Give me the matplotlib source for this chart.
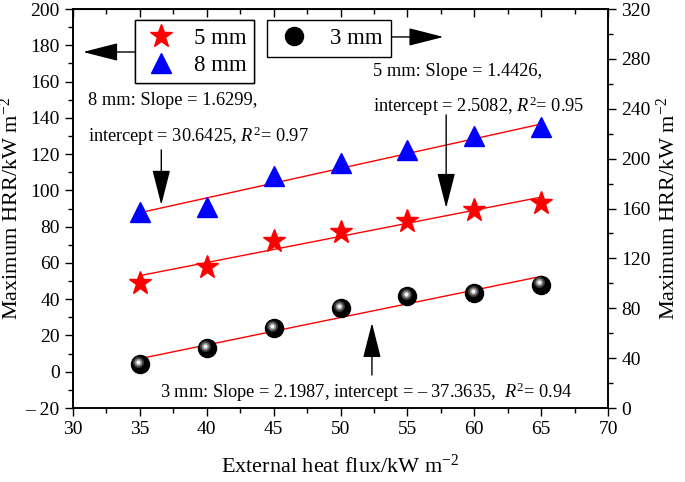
import matplotlib
import matplotlib.pyplot as plt
from matplotlib.lines import Line2D
from matplotlib.ticker import MultipleLocator, FuncFormatter
from matplotlib.transforms import offset_copy

matplotlib.use("Agg")

plt.rcParams["font.family"] = ["Liberation Serif", "DejaVu Serif"]
plt.rcParams["mathtext.fontset"] = "custom"
plt.rcParams["mathtext.rm"] = "Liberation Serif"
plt.rcParams["mathtext.it"] = "Liberation Serif:italic"

# external heat flux (kW m^-2)
heat_flux = [35, 40, 45, 50, 55, 60, 65]
# max HRR, left axis
hrr_5mm = [49, 58, 72, 77, 83, 89, 93]
hrr_8mm = [88, 91, 108, 115, 122, 130, 135]
# max HRR, right axis
hrr_3mm = [35, 48, 64, 80, 90, 92, 99]

# linear fits reported on the chart
fit_5mm = (1.4426, 2.5082)
fit_8mm = (1.6299, 30.6425)
fit_3mm = (2.1987, -37.3635)
fit_x = [35, 65]


def minus_fmt(v, pos):
    if v < 0:
        return "\u2013 %d" % abs(v)
    return "%d" % v


fig = plt.figure(figsize=(6.85, 4.82), dpi=100)
ax = fig.add_axes([0.1066, 0.1535, 0.7810, 0.8278])
ax2 = ax.twinx()

# fit lines
for slope, icpt in (fit_5mm, fit_8mm):
    ax.plot(fit_x, [slope * x + icpt for x in fit_x], color="red", lw=1, zorder=2)
ax2.plot(fit_x, [fit_3mm[0] * x + fit_3mm[1] for x in fit_x], color="red", lw=1, zorder=2)

ax.plot(heat_flux, hrr_5mm, ls="none", marker="*", ms=17, color="red", mec="red", zorder=3)
ax.plot(heat_flux, hrr_8mm, ls="none", marker="^", ms=15, color="blue", mec="blue", zorder=3)

# shaded spheres for 3 mm
ax2.plot(heat_flux, hrr_3mm, ls="none", marker="o", ms=13, color="black", zorder=3)
hl = offset_copy(ax2.transData, fig=fig, x=-1.2, y=1.5, units="points")
ax2.plot(heat_flux, hrr_3mm, ls="none", marker="o", ms=8, color="#3a3a3a", mew=0,
         transform=hl, zorder=4)
ax2.plot(heat_flux, hrr_3mm, ls="none", marker="o", ms=5.5, color="#8a8a8a", mew=0,
         transform=hl, zorder=4)
ax2.plot(heat_flux, hrr_3mm, ls="none", marker="o", ms=3, color="#f2f2f2", mew=0,
         transform=hl, zorder=5)

ax.set_xlim(30, 70)
ax.set_ylim(-20, 200)
ax2.set_ylim(0, 320)

ax.xaxis.set_major_locator(MultipleLocator(5))
ax.xaxis.set_minor_locator(MultipleLocator(2.5))
ax.yaxis.set_major_locator(MultipleLocator(20))
ax.yaxis.set_minor_locator(MultipleLocator(10))
ax.yaxis.set_major_formatter(FuncFormatter(minus_fmt))
ax2.yaxis.set_major_locator(MultipleLocator(40))
ax2.yaxis.set_minor_locator(MultipleLocator(20))

for a in (ax, ax2):
    a.tick_params(which="both", direction="out", labelsize=14, width=1)
    a.tick_params(which="major", length=6)
    a.tick_params(which="minor", length=3.5)
    for sp in a.spines.values():
        sp.set_linewidth(1.2)

top = ax.secondary_xaxis("top")
top.xaxis.set_major_locator(MultipleLocator(5))
top.xaxis.set_minor_locator(MultipleLocator(2.5))
top.tick_params(which="both", direction="in", labeltop=False, width=1)
top.tick_params(which="major", length=6)
top.tick_params(which="minor", length=3.5)

ax.set_xlabel("External heat flux/kW m$^{-2}$", fontsize=16, labelpad=12)
ax.set_ylabel("Maximum HRR/kW m$^{-2}$", fontsize=16, labelpad=2)
ax2.set_ylabel("Maximum HRR/kW m$^{-2}$", fontsize=16, labelpad=4)

# legends
h5 = Line2D([], [], ls="none", marker="*", ms=17, color="red")
h8 = Line2D([], [], ls="none", marker="^", ms=15, color="blue")
h3 = Line2D([], [], ls="none", marker="o", ms=13, color="black")
leg1 = ax.legend([h5, h8], ["5 mm", "8 mm"], loc="upper left",
                 bbox_to_anchor=(0.116, 0.972), fontsize=16.5, frameon=True,
                 fancybox=False, edgecolor="black", framealpha=1,
                 borderpad=0.32, labelspacing=0.28, handletextpad=0.65,
                 handlelength=1.6, borderaxespad=0)
leg1.get_frame().set_linewidth(1)
ax.add_artist(leg1)
leg2 = ax2.legend([h3], ["3 mm"], loc="upper left",
                  bbox_to_anchor=(0.363, 0.972), fontsize=16.5, frameon=True,
                  fancybox=False, edgecolor="black", framealpha=1,
                  borderpad=0.35, handletextpad=0.8, handlelength=1.6,
                  borderaxespad=0)
leg2.get_frame().set_linewidth(1)

arrow = dict(arrowstyle="-|>,head_length=1.1,head_width=0.28", mutation_scale=20,
             color="black", lw=1, shrinkA=0, shrinkB=0)

# legend arrows
ax.annotate("", xy=(30.75, 176.3), xytext=(34.6, 176.3), arrowprops=arrow)
ax.annotate("", xy=(57.7, 184.6), xytext=(53.85, 184.6), arrowprops=arrow)

# fit labels and their arrows
tfs = 13.2
ax.text(31.1, 149.8, "8 mm: Slope = 1.6299,", fontsize=tfs, va="center")
ax.text(31.1, 130.0, "intercept = 30.6425, $R^2$= 0.97", fontsize=tfs, va="center")
ax.annotate("", xy=(36.6, 92), xytext=(36.6, 122.3), arrowprops=arrow)

ax.text(52.4, 165.3, "5 mm: Slope = 1.4426,", fontsize=tfs, va="center")
ax.text(52.4, 146.5, "intercept = 2.5082, $R^2$= 0.95", fontsize=tfs, va="center")
ax.annotate("", xy=(57.9, 90.3), xytext=(57.9, 141.6), arrowprops=arrow)

ax.text(36.5, -11.2, "3 mm: Slope = 2.1987, intercept = \u2013 37.3635,  $R^2$= 0.94",
        fontsize=tfs, va="center")
ax.annotate("", xy=(52.35, 26.9), xytext=(52.35, -1.8), arrowprops=arrow)

fig.savefig("out.png", dpi=100)
